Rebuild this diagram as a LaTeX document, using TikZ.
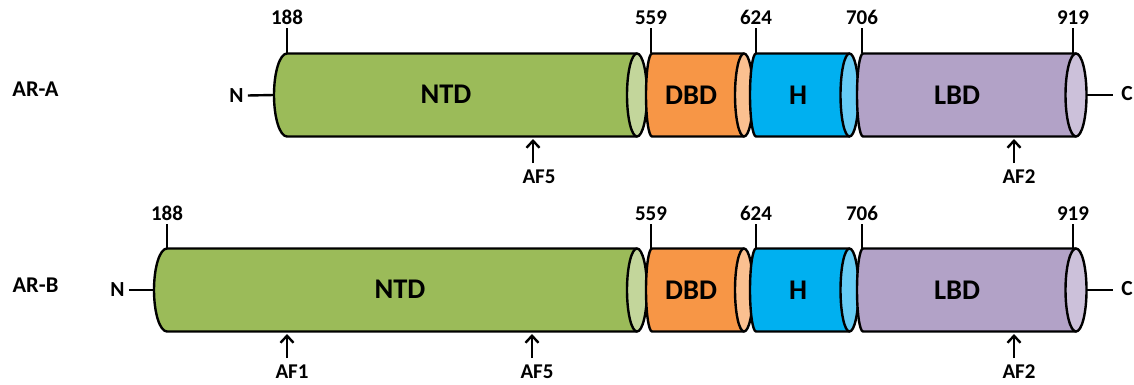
\documentclass[tikz,border=0pt]{standalone}
\usepackage{fontspec}
\setmainfont{Carlito}
\usetikzlibrary{arrows.meta}

\definecolor{ntdc}{HTML}{9BBB59}
\definecolor{ntdl}{HTML}{C3D69B}
\definecolor{dbdc}{HTML}{F79646}
\definecolor{dbdl}{HTML}{FAC090}
\definecolor{hngc}{HTML}{00B0F0}
\definecolor{hngl}{HTML}{66CCF5}
\definecolor{lbdc}{HTML}{B2A2C7}
\definecolor{lbdl}{HTML}{CCC1DA}

\tikzset{
  seg/.style={draw=black, line width=2.4pt, line join=round},
  tickline/.style={draw=black, line width=2.4pt},
  domlab/.style={font=\fontsize{28.5}{32}\selectfont\bfseries, inner sep=0pt},
  poslab/.style={font=\fontsize{21}{24}\selectfont\bfseries, inner xsep=0pt, inner ysep=3pt, anchor=south},
  aflab/.style={font=\fontsize{21}{24}\selectfont\bfseries, inner xsep=0pt, inner ysep=0pt, anchor=north},
  rowlab/.style={font=\fontsize{22.5}{26}\selectfont\bfseries, inner sep=0pt},
  endlab/.style={font=\fontsize{21.5}{25}\selectfont\bfseries, inner sep=0pt},
  afarrow/.style={draw=black, line width=2.4pt, -{Straight Barb[length=7pt,width=13pt,line width=2.4pt]}},
}

% one cylinder segment: name, left x, back radius, right x, front radius, centre y, body colour, cap colour
\newcommand\cylseg[8]{%
  \filldraw[seg, fill=#7] (#2,#6-41.5)
     arc[start angle=270, end angle=90, x radius=#3, y radius=41.5]
     -- (#4,#6+41.5) -- (#4,#6-41.5) -- cycle;
  \filldraw[seg, fill=#8] (#4,#6) ellipse[x radius=#5, y radius=41.5];
  \coordinate (#1-tl) at (#2,#6-41.5);
  \coordinate (#1-tr) at (#4,#6-41.5);
  \coordinate (#1-w) at (#2-#3,#6);
  \coordinate (#1-e) at (#4+#5,#6);
}

\begin{document}
\begin{tikzpicture}[x=1pt, y=-1pt]
\useasboundingbox (0,0) rectangle (1134,385);

% ---------- AR-A ----------
\cylseg{ntdA}{287}{13}{637}{10}{95}{ntdc}{ntdl}
\cylseg{dbdA}{652}{6}{744}{9}{95}{dbdc}{dbdl}
\cylseg{hA}{756}{6}{849.5}{9}{95}{hngc}{hngl}
\cylseg{lbdA}{863}{6}{1076}{10.5}{95}{lbdc}{lbdl}

\node[domlab] (tNTDA) at (446,94) {NTD};
\node[domlab] (tDBDA) at (691,95) {DBD};
\node[domlab] (tHA) at (798,95) {H};
\node[domlab] (tLBDA) at (957,95) {LBD};

\node[rowlab] (rowA) at (35.5,89.5) {AR-A};
\node[endlab] (nA) at (236.5,95.5) {N};
\node[endlab] (cA) at (1127,93.5) {C};
\draw[tickline] (nA.east) ++(4,0) coordinate (nAe) (nAe) -- (ntdA-w);
\draw[tickline] (lbdA-e) -- ++(26,0) coordinate (cAw);

\node[poslab] (pA188) at (287,28) {188};
\node[poslab] (pA559) at (651,28) {559};
\node[poslab] (pA624) at (756,28) {624};
\node[poslab] (pA706) at (862,28) {706};
\node[poslab] (pA919) at (1073,28) {919};
\draw[tickline] (ntdA-tl) -- (pA188.south);
\draw[tickline] (dbdA-tl) ++(-1,0) coordinate (dA) (dA) -- (pA559.south);
\draw[tickline] (hA-tl) -- (pA624.south);
\draw[tickline] (lbdA-tl) ++(-1,0) coordinate (lA) (lA) -- (pA706.south);
\draw[tickline] (lbdA-tr) ++(-3,0) coordinate (rA) (rA) -- (pA919.south);

\coordinate (af5Atip) at (533,139);
\coordinate (af5Atail) at (533,163);
\node[aflab] (af5A) at (539,170) {AF5};
\draw[afarrow] (af5Atail) -- (af5Atip);
\coordinate (af2Atip) at (1014,139);
\coordinate (af2Atail) at (1014,163);
\node[aflab] (af2A) at (1019,170) {AF2};
\draw[afarrow] (af2Atail) -- (af2Atip);

% ---------- AR-B ----------
\cylseg{ntdB}{167}{13}{637}{10}{290}{ntdc}{ntdl}
\cylseg{dbdB}{652}{6}{744}{9}{290}{dbdc}{dbdl}
\cylseg{hB}{756}{6}{849.5}{9}{290}{hngc}{hngl}
\cylseg{lbdB}{863}{6}{1076}{10.5}{290}{lbdc}{lbdl}

\node[domlab] (tNTDB) at (400,289) {NTD};
\node[domlab] (tDBDB) at (691,290) {DBD};
\node[domlab] (tHB) at (798,290) {H};
\node[domlab] (tLBDB) at (957,290) {LBD};

\node[rowlab] (rowB) at (35.5,285) {AR-B};
\node[endlab] (nB) at (117.5,290) {N};
\node[endlab] (cB) at (1127,289) {C};
\draw[tickline] (nB.east) ++(4,0) coordinate (nBe) (nBe) -- (ntdB-w);
\draw[tickline] (lbdB-e) -- ++(26,0) coordinate (cBw);

\node[poslab] (pB188) at (167,224) {188};
\node[poslab] (pB559) at (651,224) {559};
\node[poslab] (pB624) at (756,224) {624};
\node[poslab] (pB706) at (862,224) {706};
\node[poslab] (pB919) at (1073,224) {919};
\draw[tickline] (ntdB-tl) -- (pB188.south);
\draw[tickline] (dbdB-tl) ++(-1,0) coordinate (dB) (dB) -- (pB559.south);
\draw[tickline] (hB-tl) -- (pB624.south);
\draw[tickline] (lbdB-tl) ++(-1,0) coordinate (lB) (lB) -- (pB706.south);
\draw[tickline] (lbdB-tr) ++(-3,0) coordinate (rB) (rB) -- (pB919.south);

\coordinate (af1Btip) at (287,334);
\coordinate (af1Btail) at (287,358);
\node[aflab] (af1B) at (292,365) {AF1};
\draw[afarrow] (af1Btail) -- (af1Btip);
\coordinate (af5Btip) at (532,334);
\coordinate (af5Btail) at (532,358);
\node[aflab] (af5B) at (537,365) {AF5};
\draw[afarrow] (af5Btail) -- (af5Btip);
\coordinate (af2Btip) at (1014,334);
\coordinate (af2Btail) at (1014,358);
\node[aflab] (af2B) at (1019,365) {AF2};
\draw[afarrow] (af2Btail) -- (af2Btip);
\end{tikzpicture}
\end{document}
